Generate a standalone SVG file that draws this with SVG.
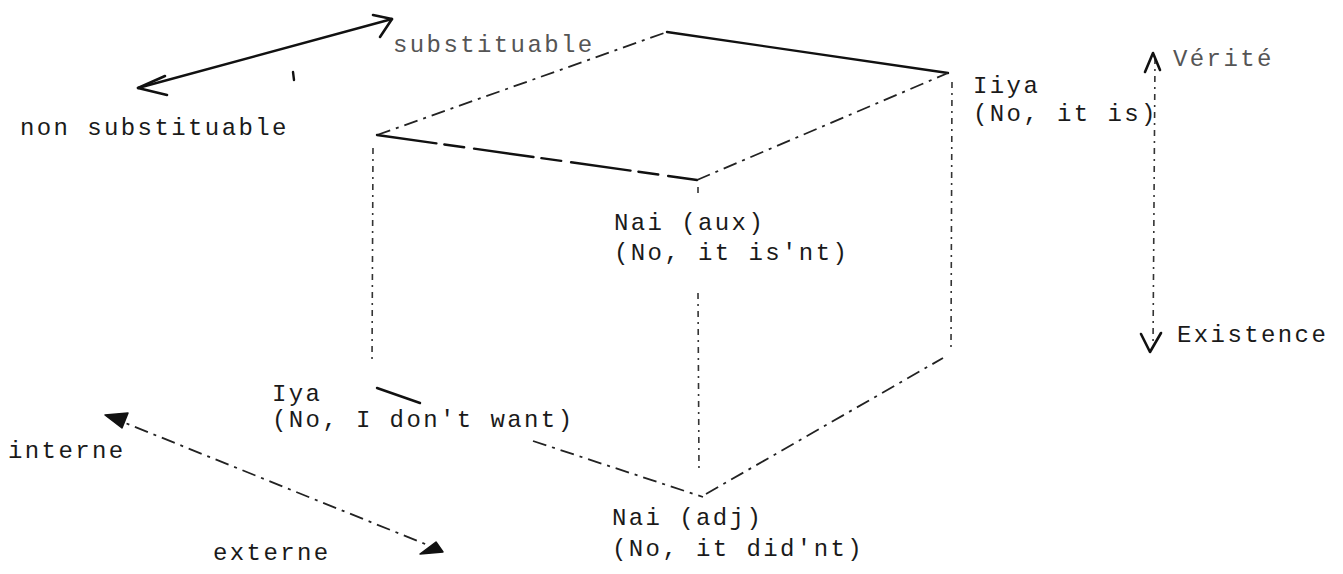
<svg xmlns="http://www.w3.org/2000/svg" width="1343" height="574" viewBox="0 0 1343 574">
<style>
text{font-family:"Liberation Mono","Courier New",monospace;font-size:24px;letter-spacing:2.4px;fill:#1a1a1a}
.faint{fill:#555}
.solid{stroke:#111;stroke-width:2.4;fill:none;stroke-linecap:round}
.dash{stroke:#222;stroke-width:1.8;fill:none;stroke-dasharray:14 6 3 6}
.dot{stroke:#333;stroke-width:1.6;fill:none;stroke-dasharray:6 5 2 5}
.head{stroke:#111;stroke-width:2.6;fill:none;stroke-linecap:round;stroke-linejoin:round}
.fhead{fill:#111;stroke:#111;stroke-width:1.5;stroke-linejoin:round}
</style>
<rect width="1343" height="574" fill="#fff"/>
<g id="connectors">
  <!-- substituable axis -->
  <line class="solid" x1="138" y1="88" x2="392" y2="19"/>
  <polyline class="head" points="165,76 138,88 167,95"/>
  <polyline class="head" points="373,15 392,19 380,37"/>
  <line class="solid" x1="293" y1="72" x2="294" y2="80" stroke-width="1.8"/>
  <!-- interne / externe axis -->
  <line class="dash" x1="108" y1="416" x2="440" y2="550" stroke-width="2.2"/>
  <polygon class="fhead" points="105,415 128,413 122,428"/>
  <polygon class="fhead" points="443,552 420,554 436,542"/>
  <!-- vérité / existence axis -->
  <line class="dot" x1="1155" y1="58" x2="1153" y2="348"/>
  <polyline class="head" points="1145,72 1153,53 1160,70" stroke-width="2"/>
  <polyline class="head" points="1141,334 1150,352 1161,333" stroke-width="2"/>
</g>
<g id="cube">
  <!-- top face -->
  <line class="dash" x1="377" y1="135" x2="667" y2="32"/>
  <line class="solid" x1="667" y1="32" x2="948" y2="73"/>
  <line class="solid" x1="377" y1="135" x2="697" y2="180" stroke-dasharray="60 8 20 10"/>
  <line class="dash" x1="697" y1="180" x2="948" y2="73"/>
  <!-- verticals -->
  <line class="dot" x1="373" y1="148" x2="372" y2="364"/>
  <line class="dot" x1="698" y1="187" x2="698" y2="198"/>
  <line class="dot" x1="698" y1="293" x2="699" y2="472"/>
  <line class="dot" x1="952" y1="82" x2="951" y2="347"/>
  <!-- bottom edges -->
  <line class="solid" x1="377" y1="388" x2="420" y2="403"/>
  <line class="dash" x1="533" y1="441" x2="703" y2="497"/>
  <line class="dash" x1="706" y1="494" x2="943" y2="358"/>
</g>
<g id="label-substituable"><text x="393" y="52" class="faint">substituable</text></g>
<g id="label-non-substituable"><text x="20" y="135">non substituable</text></g>
<g id="label-interne"><text x="8" y="458">interne</text></g>
<g id="label-externe"><text x="213" y="560">externe</text></g>
<g id="label-verite"><text x="1173" y="66" class="faint">Vérité</text></g>
<g id="label-existence"><text x="1177" y="342">Existence</text></g>
<g id="node-iiya"><text x="973" y="93">Iiya</text><text x="973" y="121">(No, it is)</text></g>
<g id="node-nai-aux"><text x="614" y="230">Nai (aux)</text><text x="614" y="260">(No, it is'nt)</text></g>
<g id="node-iya"><text x="272" y="401">Iya</text><text x="272" y="427">(No, I don't want)</text></g>
<g id="node-nai-adj"><text x="612" y="525">Nai (adj)</text><text x="612" y="556">(No, it did'nt)</text></g>
</svg>
